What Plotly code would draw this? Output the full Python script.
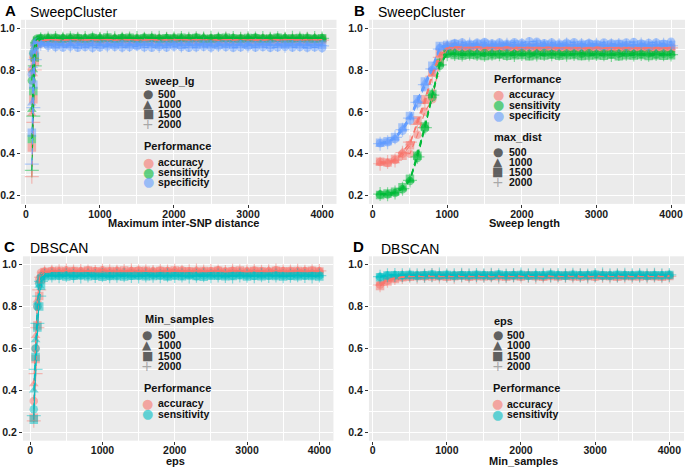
import plotly.graph_objects as go

W, H = 685, 468
FONT = "Liberation Sans, Arial, sans-serif"
GLYPH_FONT = "DejaVu Sans, sans-serif"

GROUPS = ["500", "1000", "1500", "2000"]
SYMBOLS = ["circle", "triangle-up", "square", "cross-thin"]
KEY_GLYPHS = ["●", "▲", "■", "+"]
HUE3 = {"accuracy": "#F8766D", "sensitivity": "#00BA38", "specificity": "#619CFF"}
HUE2 = {"accuracy": "#F8766D", "sensitivity": "#00BFC4"}

# x grids
X_A = [80, 100, 120, 150] + list(range(200, 4001, 100))
X_B = list(range(100, 4001, 100))
X_C = [50, 75, 100, 125, 150] + list(range(200, 4001, 100))
X_D = list(range(100, 4001, 100))

# ---- Panel A : SweepCluster vs maximum inter-SNP distance (groups = sweep_lg)
A_ACC_500 = [0.80, 0.86, 0.92, 0.94,
             0.945, 0.947, 0.944, 0.946, 0.948, 0.945, 0.943, 0.947, 0.946, 0.944,
             0.948, 0.945, 0.946, 0.943, 0.947, 0.945, 0.949, 0.944, 0.946, 0.945,
             0.947, 0.943, 0.946, 0.948, 0.944, 0.946, 0.945, 0.947, 0.944, 0.946,
             0.948, 0.945, 0.943, 0.946, 0.945, 0.947, 0.944, 0.946, 0.945]
A_ACC_1000 = [0.59, 0.78, 0.89, 0.935,
              0.943, 0.946, 0.945, 0.942, 0.947, 0.944, 0.946, 0.945, 0.943, 0.948,
              0.944, 0.946, 0.942, 0.945, 0.947, 0.944, 0.945, 0.946, 0.943, 0.947,
              0.945, 0.944, 0.948, 0.945, 0.943, 0.946, 0.944, 0.945, 0.947, 0.943,
              0.945, 0.946, 0.944, 0.947, 0.945, 0.943, 0.946, 0.945, 0.944]
A_ACC_1500 = [0.43, 0.66, 0.84, 0.925,
              0.941, 0.944, 0.946, 0.943, 0.945, 0.947, 0.942, 0.945, 0.944, 0.946,
              0.943, 0.947, 0.945, 0.944, 0.942, 0.946, 0.945, 0.943, 0.947, 0.944,
              0.946, 0.945, 0.943, 0.944, 0.947, 0.945, 0.942, 0.946, 0.944, 0.945,
              0.943, 0.947, 0.945, 0.944, 0.946, 0.942, 0.945, 0.944, 0.946]
A_ACC_2000 = [0.29, 0.55, 0.80, 0.915,
              0.938, 0.943, 0.945, 0.944, 0.942, 0.946, 0.944, 0.943, 0.947, 0.945,
              0.942, 0.944, 0.946, 0.943, 0.945, 0.944, 0.942, 0.947, 0.945, 0.943,
              0.944, 0.946, 0.945, 0.942, 0.944, 0.947, 0.943, 0.945, 0.946, 0.944,
              0.942, 0.945, 0.944, 0.946, 0.943, 0.945, 0.947, 0.944, 0.943]
A_SENS_500 = [0.75, 0.88, 0.93, 0.95,
              0.953, 0.951, 0.955, 0.952, 0.950, 0.954, 0.952, 0.956, 0.951, 0.953,
              0.950, 0.954, 0.952, 0.951, 0.955, 0.953, 0.950, 0.952, 0.954, 0.951,
              0.953, 0.955, 0.950, 0.952, 0.954, 0.951, 0.953, 0.952, 0.950, 0.955,
              0.952, 0.951, 0.954, 0.953, 0.950, 0.952, 0.954, 0.951, 0.953]
A_SENS_1000 = [0.61, 0.80, 0.91, 0.945,
               0.955, 0.957, 0.954, 0.958, 0.956, 0.953, 0.957, 0.955, 0.959, 0.954,
               0.956, 0.958, 0.955, 0.953, 0.957, 0.956, 0.954, 0.958, 0.955, 0.957,
               0.953, 0.956, 0.959, 0.954, 0.956, 0.957, 0.955, 0.953, 0.958, 0.956,
               0.954, 0.957, 0.955, 0.958, 0.953, 0.956, 0.955, 0.957, 0.954]
A_SENS_1500 = [0.47, 0.70, 0.86, 0.94,
               0.950, 0.953, 0.951, 0.949, 0.954, 0.952, 0.950, 0.953, 0.951, 0.955,
               0.949, 0.952, 0.954, 0.950, 0.951, 0.953, 0.949, 0.952, 0.950, 0.954,
               0.951, 0.953, 0.950, 0.949, 0.952, 0.954, 0.951, 0.950, 0.953, 0.952,
               0.949, 0.951, 0.954, 0.950, 0.952, 0.953, 0.951, 0.949, 0.952]
A_SENS_2000 = [0.32, 0.58, 0.82, 0.93,
               0.947, 0.951, 0.953, 0.950, 0.952, 0.949, 0.953, 0.951, 0.950, 0.954,
               0.952, 0.949, 0.951, 0.953, 0.950, 0.952, 0.954, 0.949, 0.951, 0.953,
               0.950, 0.952, 0.951, 0.954, 0.949, 0.951, 0.953, 0.950, 0.952, 0.951,
               0.953, 0.949, 0.952, 0.950, 0.954, 0.951, 0.950, 0.953, 0.951]
A_SPEC_500 = [0.78, 0.88, 0.92, 0.935,
              0.925, 0.915, 0.910, 0.908, 0.912, 0.907, 0.910, 0.906, 0.909, 0.913,
              0.911, 0.908, 0.910, 0.914, 0.909, 0.907, 0.911, 0.908, 0.912, 0.910,
              0.906, 0.909, 0.911, 0.908, 0.913, 0.910, 0.907, 0.909, 0.912, 0.908,
              0.910, 0.906, 0.909, 0.911, 0.908, 0.910, 0.907, 0.909, 0.905]
A_SPEC_1000 = [0.64, 0.82, 0.91, 0.93,
               0.928, 0.924, 0.926, 0.922, 0.925, 0.927, 0.923, 0.926, 0.924, 0.921,
               0.925, 0.927, 0.923, 0.924, 0.926, 0.922, 0.925, 0.923, 0.927, 0.924,
               0.926, 0.922, 0.925, 0.923, 0.926, 0.924, 0.921, 0.925, 0.927, 0.923,
               0.924, 0.926, 0.922, 0.925, 0.923, 0.926, 0.924, 0.922, 0.925]
A_SPEC_1500 = [0.50, 0.73, 0.88, 0.925,
               0.930, 0.926, 0.923, 0.927, 0.925, 0.921, 0.924, 0.928, 0.922, 0.925,
               0.923, 0.926, 0.924, 0.920, 0.925, 0.927, 0.922, 0.924, 0.926, 0.921,
               0.925, 0.923, 0.927, 0.924, 0.922, 0.926, 0.923, 0.925, 0.921, 0.924,
               0.926, 0.922, 0.925, 0.923, 0.927, 0.924, 0.921, 0.925, 0.922]
A_SPEC_2000 = [0.35, 0.62, 0.85, 0.92,
               0.926, 0.920, 0.918, 0.921, 0.917, 0.919, 0.922, 0.916, 0.920, 0.918,
               0.921, 0.917, 0.919, 0.923, 0.918, 0.920, 0.916, 0.919, 0.921, 0.917,
               0.920, 0.918, 0.922, 0.916, 0.919, 0.921, 0.918, 0.920, 0.917, 0.919,
               0.922, 0.918, 0.920, 0.916, 0.919, 0.921, 0.917, 0.920, 0.915]

# ---- Panel B : SweepCluster vs sweep length (groups = max_dist)
B_ACC_500 = [0.360, 0.355, 0.370, 0.400, 0.400, 0.490, 0.600, 0.660, 0.840, 0.900,
             0.908, 0.904, 0.910, 0.906, 0.903, 0.909, 0.905, 0.907, 0.902, 0.906,
             0.910, 0.904, 0.907, 0.903, 0.906, 0.908, 0.904, 0.902, 0.906, 0.905,
             0.903, 0.907, 0.904, 0.906, 0.902, 0.905, 0.903, 0.907, 0.904, 0.901]
B_ACC_1000 = [0.355, 0.360, 0.365, 0.410, 0.450, 0.550, 0.650, 0.780, 0.870, 0.905,
              0.910, 0.906, 0.908, 0.912, 0.905, 0.909, 0.907, 0.904, 0.910, 0.906,
              0.908, 0.905, 0.911, 0.907, 0.904, 0.909, 0.906, 0.908, 0.905, 0.910,
              0.907, 0.904, 0.908, 0.906, 0.909, 0.905, 0.907, 0.904, 0.908, 0.906]
B_ACC_1500 = [0.362, 0.358, 0.375, 0.390, 0.440, 0.560, 0.660, 0.790, 0.880, 0.910,
              0.912, 0.908, 0.906, 0.910, 0.907, 0.904, 0.909, 0.911, 0.906, 0.908,
              0.905, 0.909, 0.907, 0.910, 0.906, 0.904, 0.908, 0.907, 0.903, 0.909,
              0.906, 0.908, 0.905, 0.907, 0.904, 0.908, 0.906, 0.903, 0.907, 0.905]
B_ACC_2000 = [0.352, 0.360, 0.368, 0.405, 0.455, 0.540, 0.640, 0.770, 0.860, 0.906,
              0.907, 0.911, 0.905, 0.908, 0.910, 0.906, 0.903, 0.908, 0.906, 0.909,
              0.904, 0.907, 0.905, 0.909, 0.906, 0.903, 0.907, 0.905, 0.908, 0.904,
              0.906, 0.909, 0.903, 0.905, 0.907, 0.904, 0.906, 0.908, 0.903, 0.906]
B_SENS_500 = [0.205, 0.205, 0.212, 0.230, 0.270, 0.380, 0.520, 0.670, 0.820, 0.876,
              0.880, 0.877, 0.879, 0.876, 0.881, 0.878, 0.875, 0.879, 0.877, 0.880,
              0.876, 0.878, 0.881, 0.877, 0.875, 0.879, 0.878, 0.876, 0.880, 0.877,
              0.879, 0.875, 0.878, 0.880, 0.876, 0.877, 0.879, 0.875, 0.878, 0.876]
B_SENS_1000 = [0.210, 0.208, 0.215, 0.235, 0.275, 0.400, 0.535, 0.690, 0.830, 0.878,
               0.882, 0.879, 0.877, 0.881, 0.878, 0.880, 0.876, 0.879, 0.882, 0.877,
               0.879, 0.881, 0.876, 0.878, 0.880, 0.877, 0.879, 0.882, 0.876, 0.878,
               0.880, 0.877, 0.879, 0.876, 0.881, 0.878, 0.876, 0.880, 0.877, 0.879]
B_SENS_1500 = [0.203, 0.210, 0.218, 0.240, 0.280, 0.390, 0.530, 0.685, 0.835, 0.880,
               0.872, 0.869, 0.873, 0.870, 0.867, 0.871, 0.874, 0.868, 0.870, 0.872,
               0.866, 0.871, 0.869, 0.873, 0.868, 0.870, 0.872, 0.867, 0.869, 0.871,
               0.868, 0.873, 0.866, 0.870, 0.869, 0.872, 0.867, 0.870, 0.868, 0.871]
B_SENS_2000 = [0.207, 0.206, 0.214, 0.233, 0.272, 0.385, 0.525, 0.680, 0.825, 0.875,
               0.877, 0.874, 0.879, 0.876, 0.873, 0.878, 0.875, 0.877, 0.872, 0.876,
               0.879, 0.874, 0.877, 0.875, 0.878, 0.873, 0.876, 0.879, 0.874, 0.877,
               0.875, 0.872, 0.876, 0.878, 0.874, 0.877, 0.873, 0.876, 0.875, 0.874]
B_SPEC_500 = [0.450, 0.455, 0.470, 0.510, 0.560, 0.640, 0.720, 0.800, 0.905, 0.915,
              0.928, 0.932, 0.925, 0.930, 0.934, 0.927, 0.931, 0.926, 0.933, 0.929,
              0.938, 0.935, 0.928, 0.931, 0.926, 0.930, 0.933, 0.927, 0.929, 0.925,
              0.932, 0.928, 0.926, 0.931, 0.934, 0.927, 0.929, 0.932, 0.926, 0.935]
B_SPEC_1000 = [0.445, 0.455, 0.475, 0.520, 0.575, 0.655, 0.740, 0.810, 0.910, 0.918,
               0.921, 0.918, 0.923, 0.920, 0.917, 0.922, 0.919, 0.924, 0.918, 0.921,
               0.916, 0.920, 0.923, 0.918, 0.921, 0.919, 0.917, 0.922, 0.920, 0.918,
               0.921, 0.916, 0.919, 0.922, 0.918, 0.920, 0.917, 0.921, 0.919, 0.922]
B_SPEC_1500 = [0.452, 0.460, 0.480, 0.525, 0.580, 0.660, 0.745, 0.820, 0.915, 0.920,
               0.924, 0.920, 0.918, 0.922, 0.925, 0.919, 0.921, 0.917, 0.923, 0.920,
               0.918, 0.924, 0.919, 0.921, 0.917, 0.922, 0.920, 0.918, 0.923, 0.919,
               0.917, 0.921, 0.924, 0.918, 0.920, 0.922, 0.917, 0.919, 0.923, 0.920]
B_SPEC_2000 = [0.448, 0.455, 0.478, 0.515, 0.570, 0.645, 0.730, 0.805, 0.900, 0.912,
               0.916, 0.919, 0.922, 0.917, 0.920, 0.915, 0.918, 0.921, 0.916, 0.919,
               0.923, 0.917, 0.915, 0.920, 0.918, 0.922, 0.916, 0.919, 0.917, 0.921,
               0.915, 0.918, 0.920, 0.916, 0.919, 0.922, 0.917, 0.918, 0.921, 0.916]

# ---- Panel C : DBSCAN vs eps (groups = Min_samples)
C_ACC_500 = [0.35, 0.60, 0.80, 0.93, 0.962, 0.968,
             0.971, 0.968, 0.973, 0.970, 0.967, 0.972, 0.969, 0.974, 0.968, 0.971,
             0.966, 0.970, 0.973, 0.969, 0.967, 0.972, 0.970, 0.968, 0.973, 0.969,
             0.971, 0.967, 0.970, 0.974, 0.968, 0.971, 0.969, 0.966, 0.972, 0.970,
             0.968, 0.973, 0.969, 0.971, 0.967, 0.970, 0.972, 0.969]
C_ACC_1000 = [0.43, 0.66, 0.83, 0.92, 0.955, 0.970,
              0.973, 0.970, 0.975, 0.971, 0.974, 0.969, 0.972, 0.976, 0.970, 0.973,
              0.971, 0.975, 0.969, 0.972, 0.974, 0.970, 0.973, 0.976, 0.971, 0.969,
              0.974, 0.972, 0.970, 0.975, 0.971, 0.973, 0.969, 0.974, 0.972, 0.970,
              0.975, 0.971, 0.973, 0.970, 0.974, 0.972, 0.969, 0.973]
C_ACC_1500 = [0.27, 0.55, 0.71, 0.85, 0.93, 0.965,
              0.968, 0.971, 0.966, 0.970, 0.967, 0.972, 0.969, 0.965, 0.970, 0.968,
              0.972, 0.967, 0.969, 0.971, 0.966, 0.970, 0.968, 0.972, 0.967, 0.969,
              0.965, 0.970, 0.968, 0.971, 0.966, 0.969, 0.972, 0.967, 0.970, 0.968,
              0.966, 0.971, 0.969, 0.967, 0.970, 0.968, 0.971, 0.967]
C_ACC_2000 = [0.255, 0.48, 0.70, 0.88, 0.94, 0.963,
              0.966, 0.969, 0.972, 0.967, 0.970, 0.968, 0.965, 0.971, 0.969, 0.966,
              0.970, 0.972, 0.967, 0.969, 0.965, 0.970, 0.968, 0.971, 0.966, 0.969,
              0.972, 0.967, 0.970, 0.968, 0.965, 0.971, 0.969, 0.967, 0.970, 0.966,
              0.969, 0.972, 0.967, 0.968, 0.971, 0.966, 0.969, 0.970]
C_SENS_500 = [0.31, 0.60, 0.80, 0.91, 0.94, 0.948,
              0.949, 0.947, 0.950, 0.946, 0.948, 0.951, 0.947, 0.949, 0.945, 0.948,
              0.950, 0.947, 0.946, 0.949, 0.951, 0.948, 0.946, 0.950, 0.947, 0.949,
              0.945, 0.948, 0.950, 0.946, 0.949, 0.947, 0.951, 0.948, 0.946, 0.949,
              0.947, 0.950, 0.948, 0.946, 0.949, 0.947, 0.950, 0.948]
C_SENS_1000 = [0.40, 0.64, 0.82, 0.90, 0.935, 0.950,
               0.951, 0.949, 0.952, 0.948, 0.950, 0.953, 0.949, 0.951, 0.947, 0.950,
               0.952, 0.948, 0.950, 0.953, 0.949, 0.951, 0.948, 0.952, 0.950, 0.947,
               0.951, 0.953, 0.949, 0.950, 0.948, 0.952, 0.950, 0.949, 0.951, 0.948,
               0.953, 0.950, 0.949, 0.951, 0.948, 0.952, 0.950, 0.949]
C_SENS_1500 = [0.26, 0.56, 0.70, 0.80, 0.90, 0.945,
               0.946, 0.948, 0.944, 0.947, 0.949, 0.945, 0.947, 0.943, 0.948, 0.946,
               0.944, 0.947, 0.949, 0.945, 0.946, 0.948, 0.944, 0.947, 0.945, 0.949,
               0.946, 0.943, 0.947, 0.948, 0.945, 0.946, 0.949, 0.944, 0.947, 0.945,
               0.948, 0.946, 0.944, 0.947, 0.945, 0.948, 0.946, 0.944]
C_SENS_2000 = [0.28, 0.50, 0.72, 0.85, 0.92, 0.947,
               0.948, 0.945, 0.949, 0.947, 0.944, 0.948, 0.946, 0.950, 0.945, 0.947,
               0.949, 0.946, 0.944, 0.948, 0.947, 0.945, 0.949, 0.946, 0.948, 0.944,
               0.947, 0.949, 0.945, 0.948, 0.946, 0.944, 0.948, 0.947, 0.945, 0.949,
               0.946, 0.948, 0.945, 0.947, 0.949, 0.946, 0.944, 0.948]

# ---- Panel D : DBSCAN vs Min_samples (groups = eps)
D_ACC_500 = [0.905, 0.925, 0.935, 0.940,
             0.944, 0.946, 0.943, 0.947, 0.945, 0.944, 0.946, 0.948, 0.944, 0.945,
             0.947, 0.943, 0.946, 0.945, 0.948, 0.944, 0.946, 0.945, 0.943, 0.947,
             0.945, 0.946, 0.944, 0.948, 0.945, 0.943, 0.946, 0.947, 0.944, 0.946,
             0.945, 0.947, 0.944, 0.946, 0.945, 0.947]
D_ACC_1000 = [0.910, 0.928, 0.938, 0.942,
              0.946, 0.944, 0.947, 0.945, 0.943, 0.946, 0.948, 0.944, 0.946, 0.947,
              0.945, 0.943, 0.947, 0.946, 0.944, 0.948, 0.945, 0.946, 0.944, 0.947,
              0.943, 0.945, 0.947, 0.944, 0.946, 0.948, 0.945, 0.944, 0.946, 0.943,
              0.947, 0.945, 0.946, 0.944, 0.947, 0.945]
D_ACC_1500 = [0.898, 0.920, 0.932, 0.940,
              0.943, 0.945, 0.947, 0.944, 0.946, 0.942, 0.945, 0.947, 0.943, 0.946,
              0.944, 0.947, 0.945, 0.943, 0.946, 0.944, 0.948, 0.945, 0.943, 0.946,
              0.944, 0.947, 0.945, 0.942, 0.946, 0.944, 0.947, 0.945, 0.943, 0.946,
              0.945, 0.944, 0.947, 0.945, 0.943, 0.946]
D_ACC_2000 = [0.902, 0.923, 0.936, 0.941,
              0.945, 0.943, 0.946, 0.948, 0.944, 0.945, 0.943, 0.947, 0.945, 0.944,
              0.946, 0.948, 0.943, 0.945, 0.947, 0.944, 0.946, 0.943, 0.945, 0.947,
              0.944, 0.946, 0.945, 0.948, 0.943, 0.945, 0.946, 0.944, 0.947, 0.945,
              0.943, 0.946, 0.944, 0.947, 0.945, 0.944]
D_SENS_500 = [0.942, 0.949,
              0.951, 0.950, 0.952, 0.949, 0.951, 0.953, 0.950, 0.952, 0.949, 0.951,
              0.950, 0.952, 0.951, 0.949, 0.953, 0.950, 0.951, 0.952, 0.949, 0.951,
              0.950, 0.953, 0.951, 0.949, 0.952, 0.950, 0.951, 0.953, 0.950, 0.949,
              0.952, 0.951, 0.950, 0.952, 0.949, 0.951, 0.950, 0.952]
D_SENS_1000 = [0.945, 0.951,
               0.952, 0.951, 0.953, 0.950, 0.952, 0.954, 0.951, 0.953, 0.950, 0.952,
               0.951, 0.953, 0.952, 0.950, 0.954, 0.951, 0.952, 0.953, 0.950, 0.952,
               0.951, 0.954, 0.952, 0.950, 0.953, 0.951, 0.952, 0.954, 0.951, 0.950,
               0.953, 0.952, 0.951, 0.953, 0.950, 0.952, 0.951, 0.953]
D_SENS_1500 = [0.940, 0.948,
               0.950, 0.949, 0.951, 0.948, 0.950, 0.952, 0.949, 0.951, 0.948, 0.950,
               0.949, 0.951, 0.950, 0.948, 0.952, 0.949, 0.950, 0.951, 0.948, 0.950,
               0.949, 0.952, 0.950, 0.948, 0.951, 0.949, 0.950, 0.952, 0.949, 0.948,
               0.951, 0.950, 0.949, 0.951, 0.948, 0.950, 0.949, 0.951]
D_SENS_2000 = [0.943, 0.950,
               0.951, 0.949, 0.952, 0.950, 0.948, 0.951, 0.953, 0.950, 0.949, 0.952,
               0.950, 0.951, 0.949, 0.952, 0.950, 0.948, 0.951, 0.953, 0.950, 0.949,
               0.952, 0.950, 0.951, 0.949, 0.952, 0.950, 0.948, 0.951, 0.953, 0.950,
               0.949, 0.952, 0.950, 0.951, 0.949, 0.952, 0.950, 0.951]

# panel layout (pixel boxes measured on the reference)
PANELS = [
    dict(tag="A", title="SweepCluster", xlabel="Maximum inter-SNP distance",
         shape_title="sweep_lg", x=X_A, hue=HUE3,
         series={"accuracy": [A_ACC_500, A_ACC_1000, A_ACC_1500, A_ACC_2000],
                 "sensitivity": [A_SENS_500, A_SENS_1000, A_SENS_1500, A_SENS_2000],
                 "specificity": [A_SPEC_500, A_SPEC_1000, A_SPEC_1500, A_SPEC_2000]},
         box=(19, 335.5, 19.8, 203.9), xr=(-67, 4195),
         tag_xy=(9, 10), title_xy=(27, 12), xlab_xy=(182, 223),
         shape_leg=(142, 80.7, 146.7, 155.7, 94, 10.1),
         perf_leg=(141.7, 146, 146.7, 155.7, 162, 10)),
    dict(tag="B", title="SweepCluster", xlabel="Sweep length",
         shape_title="max_dist", x=X_B, hue=HUE3,
         series={"accuracy": [B_ACC_500, B_ACC_1000, B_ACC_1500, B_ACC_2000],
                 "sensitivity": [B_SENS_500, B_SENS_1000, B_SENS_1500, B_SENS_2000],
                 "specificity": [B_SPEC_500, B_SPEC_1000, B_SPEC_1500, B_SPEC_2000]},
         box=(368, 685, 19.8, 203.9), xr=(-50, 4187),
         tag_xy=(359, 10), title_xy=(376, 12), xlab_xy=(524, 223),
         shape_leg=(492.3, 136.7, 497.3, 507.3, 151.7, 10.2),
         perf_leg=(492.3, 79.3, 498.3, 507.3, 94.3, 10.35)),
    dict(tag="C", title="DBSCAN", xlabel="eps",
         shape_title="Min_samples", x=X_C, hue=HUE2,
         series={"accuracy": [C_ACC_500, C_ACC_1000, C_ACC_1500, C_ACC_2000],
                 "sensitivity": [C_SENS_500, C_SENS_1000, C_SENS_1500, C_SENS_2000]},
         box=(21, 332.4, 256.3, 440.7), xr=(-100, 4195),
         tag_xy=(8, 246), title_xy=(27, 248), xlab_xy=(174, 461),
         shape_leg=(142.3, 319, 145.7, 155.7, 334.7, 10.4),
         perf_leg=(141.7, 388, 146, 155.7, 403, 10.7)),
    dict(tag="D", title="DBSCAN", xlabel="Min_samples",
         shape_title="eps", x=X_D, hue=HUE2,
         series={"accuracy": [D_ACC_500, D_ACC_1000, D_ACC_1500, D_ACC_2000],
                 "sensitivity": [D_SENS_500, D_SENS_1000, D_SENS_1500, D_SENS_2000]},
         box=(368, 684, 256.3, 440.7), xr=(-50, 4198),
         tag_xy=(358, 246), title_xy=(379, 249), xlab_xy=(523, 461),
         shape_leg=(492.3, 321.3, 497.3, 505.7, 334.7, 10.5),
         perf_leg=(491.7, 388, 497.3, 505.7, 403.7, 10.3)),
]


def rgba(hex_col, a):
    h = hex_col.lstrip("#")
    return f"rgba({int(h[0:2], 16)},{int(h[2:4], 16)},{int(h[4:6], 16)},{a})"


def note(x, y, s, size=10.5, bold=True, color="#111111", anchor="left", family=FONT):
    return dict(x=x / W, y=1 - y / H, xref="paper", yref="paper", text=s,
                showarrow=False, xanchor=anchor, yanchor="middle", borderpad=0,
                font=dict(family=family, size=size, color=color,
                          weight="bold" if bold else "normal"))


fig = go.Figure()
annotations = []
tickfont = dict(family=FONT, size=10.5, color="#1a1a1a", weight="bold")

for i, p in enumerate(PANELS, start=1):
    sfx = "" if i == 1 else str(i)
    xa, ya = "x" + sfx, "y" + sfx

    # points first, then the dashed lines on top
    for metric, rows in p["series"].items():
        col = p["hue"][metric]
        for g, vals in enumerate(rows):
            assert len(vals) == len(p["x"]), (p["tag"], metric, g, len(vals))
            sym = SYMBOLS[g]
            if sym == "cross-thin":
                marker = dict(symbol=sym, size=10, opacity=0.45,
                              line=dict(width=1.2, color=col))
            else:
                marker = dict(symbol=sym, size=8.5, color=col, opacity=0.5,
                              line=dict(width=0))
            fig.add_trace(go.Scatter(x=p["x"], y=vals, mode="markers", marker=marker,
                                     xaxis=xa, yaxis=ya, showlegend=False,
                                     hoverinfo="skip"))
    for metric, rows in p["series"].items():
        col = p["hue"][metric]
        for g, vals in enumerate(rows):
            fig.add_trace(go.Scatter(x=p["x"], y=vals, mode="lines",
                                     line=dict(color=col, width=1.1, dash="6px,4px"),
                                     xaxis=xa, yaxis=ya, showlegend=False,
                                     hoverinfo="skip"))

    x0, x1, y0, y1 = p["box"]
    common = dict(showgrid=True, gridcolor="white", gridwidth=1.1, zeroline=False,
                  showline=False, ticks="outside", ticklen=3, tickwidth=1,
                  tickcolor="#333333", tickfont=tickfont)
    fig.layout["xaxis" + sfx] = dict(domain=[x0 / W, x1 / W], range=list(p["xr"]),
                                     anchor=ya, tick0=0, dtick=1000,
                                     ticklabelstandoff=-3,
                                     minor=dict(dtick=500, showgrid=True,
                                                gridcolor="white", gridwidth=0.5),
                                     **common)
    fig.layout["yaxis" + sfx] = dict(domain=[1 - y1 / H, 1 - y0 / H], range=[0.16, 1.04],
                                     anchor=xa, tick0=0.2, dtick=0.2, tickformat=".1f",
                                     minor=dict(dtick=0.1, showgrid=True,
                                                gridcolor="white", gridwidth=0.5),
                                     **common)

    # tag, title, axis title
    annotations.append(note(*p["tag_xy"], p["tag"], size=15, anchor="center",
                            color="black"))
    annotations.append(note(*p["title_xy"], p["title"], size=14, bold=False,
                            color="black"))
    annotations.append(note(*p["xlab_xy"], p["xlabel"], size=11, anchor="center",
                            color="#111111"))

    # shape legend
    tx, ty, kx, lx, ly, step = p["shape_leg"]
    annotations.append(note(tx, ty, p["shape_title"], size=11))
    for g, lab in enumerate(GROUPS):
        yy = ly + g * step
        if KEY_GLYPHS[g] == "+":
            annotations.append(note(kx, yy, "+", size=14, bold=False, anchor="center",
                                    color="rgba(110,110,110,0.55)", family=GLYPH_FONT))
        else:
            annotations.append(note(kx, yy, KEY_GLYPHS[g], size=12, bold=False,
                                    anchor="center", color="rgba(50,50,50,0.75)",
                                    family=GLYPH_FONT))
        annotations.append(note(lx, yy, lab))

    # performance legend
    tx, ty, kx, lx, ly, step = p["perf_leg"]
    annotations.append(note(tx, ty, "Performance", size=11))
    for k, (metric, col) in enumerate(p["hue"].items()):
        yy = ly + k * step
        annotations.append(note(kx, yy, "●", size=13, bold=False, anchor="center",
                                color=rgba(col, 0.6), family=GLYPH_FONT))
        annotations.append(note(lx, yy, metric))

fig.update_layout(
    width=W, height=H,
    margin=dict(l=0, r=0, t=0, b=0),
    paper_bgcolor="white",
    plot_bgcolor="#EBEBEB",
    showlegend=False,
    annotations=annotations,
)

# the page body has a default 8px margin; drop it so the figure fills the window
fig.write_html("out.html", config={"displayModeBar": False},
               post_script="document.body.style.margin='0';")
